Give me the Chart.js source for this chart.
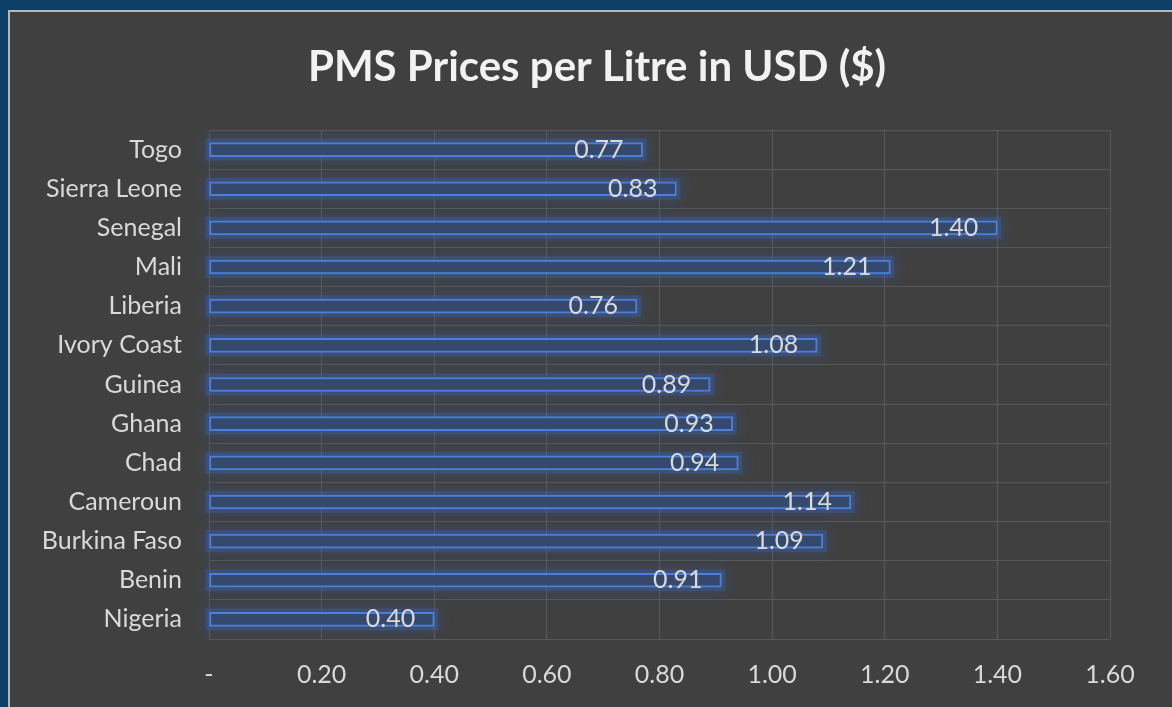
<!DOCTYPE html>
<html>
<head>
<meta charset="utf-8">
<script src="https://cdn.jsdelivr.net/npm/chart.js@4.4.1/dist/chart.umd.min.js"></script>
<style>
    html, body { margin: 0; padding: 0; }
    body { width: 1172px; height: 707px; background: #0e3f67; overflow: hidden; position: relative; }
    #frame { position: absolute; left: 8px; top: 10px; width: 1200px; height: 800px; background: #404040; border-left: 2px solid #b8b8b8; border-top: 2px solid #b8b8b8; }
    #chart { position: absolute; left: 0; top: 0; }
</style>
</head>
<body>
<div id="frame"></div>
<canvas id="chart" width="1172" height="707"></canvas>
<script>
// Данные графика (сверху вниз)
const countries = ['Togo', 'Sierra Leone', 'Senegal', 'Mali', 'Liberia', 'Ivory Coast', 'Guinea',
    'Ghana', 'Chad', 'Cameroun', 'Burkina Faso', 'Benin', 'Nigeria'];
const prices = [0.77, 0.83, 1.40, 1.21, 0.76, 1.08, 0.89, 0.93, 0.94, 1.14, 1.09, 0.91, 0.40];
const xTicks = [0, 0.2, 0.4, 0.6, 0.8, 1.0, 1.2, 1.4, 1.6];
const chartTitle = 'PMS Prices per Litre in USD ($)';

const fontFamily = 'Lato, "Open Sans", sans-serif';
const textColor = '#d9d9d9';
const gridColor = '#595959';

// Заголовок (центр смещён относительно области графика, как в Excel)
const titlePlugin = {
    id: 'excelTitle',
    afterDraw(chart) {
        const ctx = chart.ctx;
        ctx.save();
        ctx.font = 'bold 42px ' + fontFamily;
        ctx.fillStyle = '#f2f2f2';
        ctx.textAlign = 'center';
        ctx.textBaseline = 'middle';
        ctx.fillText(chartTitle, 597, 67);
        ctx.restore();
    }
};

// Свечение вокруг столбцов
const glowPlugin = {
    id: 'glow',
    beforeDatasetsDraw(chart) {
        const ctx = chart.ctx;
        const meta = chart.getDatasetMeta(0);
        ctx.save();
        ctx.shadowColor = 'rgba(55, 105, 225, 0.9)';
        ctx.shadowBlur = 14;
        ctx.strokeStyle = 'rgba(60, 100, 180, 0.35)';
        ctx.lineWidth = 6;
        meta.data.forEach(bar => {
            const p = bar.getProps(['x', 'y', 'base', 'height']);
            ctx.strokeRect(p.base - 1, p.y - p.height / 2 - 1, p.x - p.base + 2, p.height + 2);
        });
        ctx.restore();
    }
};

// Подписи значений у конца столбца
const labelPlugin = {
    id: 'valueLabels',
    afterDatasetsDraw(chart) {
        const ctx = chart.ctx;
        const meta = chart.getDatasetMeta(0);
        ctx.save();
        ctx.font = '25px ' + fontFamily;
        ctx.fillStyle = textColor;
        ctx.textAlign = 'right';
        ctx.textBaseline = 'middle';
        meta.data.forEach((bar, i) => {
            ctx.fillText(prices[i].toFixed(2), bar.x - 19, bar.y);
        });
        ctx.restore();
    }
};

new Chart(document.getElementById('chart'), {
    type: 'bar',
    data: {
        labels: countries,
        datasets: [{
            data: prices,
            backgroundColor: '#34496b',
            borderColor: '#4a7fdc',
            borderWidth: 2,
            borderSkipped: false,
            barThickness: 14
        }]
    },
    options: {
        indexAxis: 'y',
        responsive: false,
        animation: false,
        layout: { padding: { left: 0, right: 62, top: 130, bottom: 0 } },
        plugins: {
            legend: { display: false },
            tooltip: { enabled: false },
            title: { display: false }
        },
        scales: {
            x: {
                min: 0,
                max: 1.6,
                afterBuildTicks(scale) {
                    scale.ticks = xTicks.map(v => ({ value: v }));
                },
                afterFit(scale) { scale.height = 68; },
                grid: { color: gridColor, drawTicks: false },
                border: { display: false },
                ticks: {
                    color: textColor,
                    padding: 21,
                    font: { family: fontFamily, size: 25 },
                    callback: v => v === 0 ? '-' : v.toFixed(2)
                }
            },
            y: {
                afterFit(scale) { scale.width = 209; },
                grid: { color: gridColor, drawTicks: false, offset: true },
                border: { display: false },
                ticks: {
                    color: textColor,
                    padding: 27,
                    font: { family: fontFamily, size: 25 }
                }
            }
        }
    },
    plugins: [glowPlugin, labelPlugin, titlePlugin]
});
</script>
</body>
</html>
